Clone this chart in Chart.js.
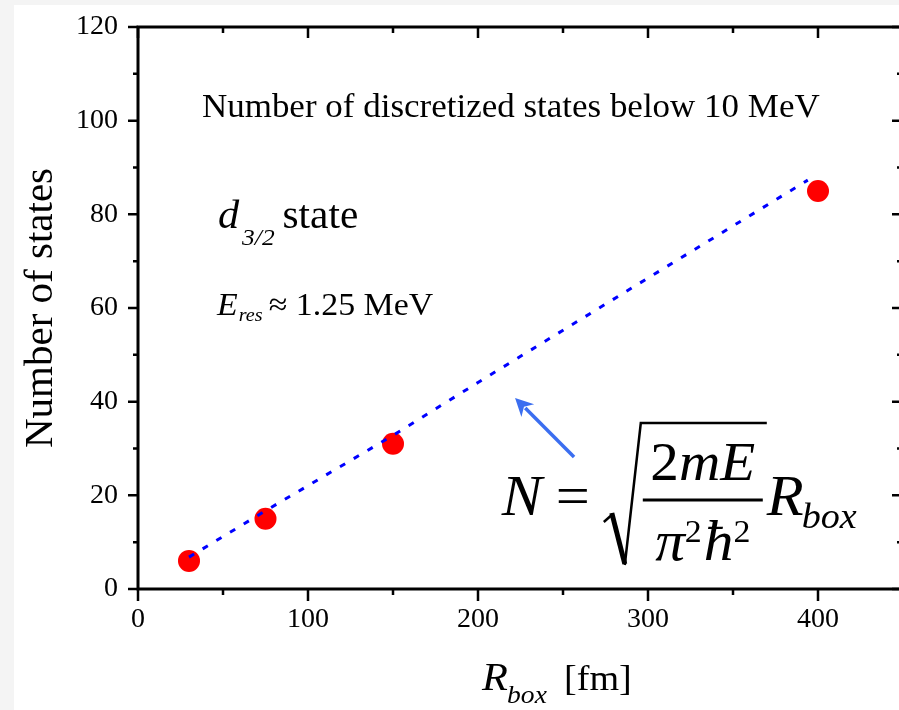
<!DOCTYPE html>
<html><head><meta charset="utf-8">
<script src="https://cdn.jsdelivr.net/npm/chart.js@4"></script>
<style>
html,body{margin:0;padding:0;overflow:hidden;background:#f4f4f4;width:899px;height:710px;}
#wrap{position:absolute;left:0;top:0;width:930px;height:710px;}
canvas{display:block;}
</style></head><body>
<div id="wrap"><canvas id="c" width="930" height="710"></canvas></div>
<script>
// ---- data ----
const pointR = [30, 75, 150, 400];          // R_box [fm] of computed points
const pointN = [6, 15, 31, 85];             // number of states
const curveR = [30, 75, 150, 200, 300, 394]; // dotted estimate line
const curveN = [6.8, 16.7, 32.8, 44.1, 66.4, 87.3];
const xTicks = [0, 100, 200, 300, 400];
const yTicks = [0, 20, 40, 60, 80, 100, 120];
const xMinor = [50, 150, 250, 350];
const yMinor = [10, 30, 50, 70, 90, 110];
const xRange = [0, 450];
const yRange = [0, 120];

const FAM = '"Liberation Serif","Times New Roman",serif';
const SX = 1.06;

function run(ctx, x, y, parts) {
  let cx = x;
  for (const p of parts) {
    cx += (p.dx || 0);
    ctx.save();
    ctx.font = (p.it ? 'italic ' : '') + p.size + 'px ' + FAM;
    ctx.textBaseline = 'alphabetic';
    ctx.textAlign = 'left';
    ctx.fillStyle = p.color || '#000';
    ctx.translate(cx, y + (p.dy || 0));
    ctx.scale(SX, 1);
    ctx.fillText(p.t, 0, 0);
    const w = ctx.measureText(p.t).width * SX;
    ctx.restore();
    cx += w;
  }
  return cx;
}
function width(ctx, parts) {
  let w = 0;
  for (const p of parts) {
    ctx.save();
    ctx.font = (p.it ? 'italic ' : '') + p.size + 'px ' + FAM;
    w += ctx.measureText(p.t).width * SX + (p.dx || 0);
    ctx.restore();
  }
  return w;
}

const bgPlugin = {
  id: 'bg',
  beforeDraw(chart) {
    const c = chart.ctx;
    c.save();
    c.fillStyle = '#f4f4f4';
    c.fillRect(0, 0, chart.width, chart.height);
    c.fillStyle = '#ffffff';
    c.fillRect(14, 5, chart.width - 14, chart.height - 5);
    c.restore();
  }
};

const decoPlugin = {
  id: 'deco',
  afterDraw(chart) {
    const c = chart.ctx;
    const xs = chart.scales.x, ys = chart.scales.y;
    const a = chart.chartArea;
    const X = v => xs.getPixelForValue(v), Y = v => ys.getPixelForValue(v);
    c.save();
    c.strokeStyle = '#000';
    c.lineCap = 'butt';
    // frame
    c.lineWidth = 3;
    c.beginPath();
    c.moveTo(a.left, a.top); c.lineTo(a.right, a.top);
    c.moveTo(a.left, a.bottom); c.lineTo(a.right, a.bottom);
    c.moveTo(a.left, a.top - 1.5); c.lineTo(a.left, a.bottom + 1.5);
    c.moveTo(a.right, a.top - 1.5); c.lineTo(a.right, a.bottom + 1.5);
    c.stroke();
    // ticks
    c.lineWidth = 2.5;
    c.beginPath();
    const tx = (v, len, top) => {
      const p = X(v);
      c.moveTo(p, a.bottom); c.lineTo(p, a.bottom + len);
      c.moveTo(p, a.top); c.lineTo(p, a.top + top);
    };
    const ty = (v, len, inn) => {
      const p = Y(v);
      c.moveTo(a.left, p); c.lineTo(a.left - len, p);
      c.moveTo(a.right, p); c.lineTo(a.right - inn, p);
    };
    xTicks.forEach(v => tx(v, 12, 11));
    xMinor.forEach(v => tx(v, 6, 6));
    yTicks.forEach(v => ty(v, 10, 11));
    yMinor.forEach(v => ty(v, 5, 6));
    c.stroke();
    c.restore();

    // y-axis title
    c.save();
    c.translate(41, (a.top + a.bottom) / 2);
    c.rotate(-Math.PI / 2);
    c.font = '41px ' + FAM;
    c.textAlign = 'center';
    c.textBaseline = 'middle';
    c.fillStyle = '#000';
    c.fillText('Number of states', 0, 0);
    c.restore();

    // x-axis title
    const xt = X(202.4), yb = a.bottom + 101;
    run(c, xt, yb, [{t: 'R', size: 40, it: true}]);
    run(c, xt + 25, yb + 13, [{t: 'box', size: 26, it: true}]);
    run(c, X(250.6), yb, [{t: '[fm]', size: 36}]);

    // inner title
    run(c, X(37.6), Y(100.8), [{t: 'Number of discretized states below 10 MeV', size: 33}]);

    // d3/2 state
    const dx0 = X(47), db = Y(77.1);
    const dEnd = run(c, dx0, db, [{t: 'd', size: 40, it: true}]);
    run(c, dEnd + 3, db + 17, [{t: '3/2', size: 24, it: true}]);
    run(c, X(85), db, [{t: 'state', size: 39}]);

    // E_res
    const ex0 = X(46.5), eb = Y(58.5);
    const eEnd = run(c, ex0, eb, [{t: 'E', size: 32, it: true}]);
    const rEnd = run(c, eEnd + 1, eb + 6, [{t: 'res', size: 19, it: true}]);
    run(c, rEnd + 6, eb, [{t: '\u2248 1.25 MeV', size: 32}]);

    // arrow
    const t0x = X(256.5), t0y = Y(28.2), t1x = X(221.8), t1y = Y(40.8);
    const ang = Math.atan2(t1y - t0y, t1x - t0x);
    const hl = 18, hw = 9;
    c.save();
    c.strokeStyle = '#3b6ef0';
    c.fillStyle = '#3b6ef0';
    c.lineWidth = 3.5;
    c.beginPath();
    c.moveTo(t0x, t0y);
    c.lineTo(t1x - Math.cos(ang) * hl * 0.8, t1y - Math.sin(ang) * hl * 0.8);
    c.stroke();
    c.beginPath();
    c.moveTo(t1x, t1y);
    c.lineTo(t1x - Math.cos(ang) * hl - Math.sin(ang) * hw, t1y - Math.sin(ang) * hl + Math.cos(ang) * hw);
    c.lineTo(t1x - Math.cos(ang) * hl * 0.7, t1y - Math.sin(ang) * hl * 0.7);
    c.lineTo(t1x - Math.cos(ang) * hl + Math.sin(ang) * hw, t1y - Math.sin(ang) * hl - Math.cos(ang) * hw);
    c.closePath();
    c.fill();
    c.restore();

    // formula
    const fx = X(214), fb = Y(15.8);
    run(c, fx, fb, [{t: 'N', size: 57, it: true}]);
    run(c, fx + 54, fb, [{t: '=', size: 57}]);
    c.save();
    c.strokeStyle = '#000';
    c.lineJoin = 'miter';
    c.lineWidth = 2.5;
    c.beginPath();
    c.moveTo(fx + 102, fb + 7);
    c.lineTo(fx + 111, fb - 1);
    c.stroke();
    c.lineWidth = 5;
    c.beginPath();
    c.moveTo(fx + 110, fb - 2);
    c.lineTo(fx + 123, fb + 49);
    c.stroke();
    c.lineWidth = 2.5;
    c.beginPath();
    c.moveTo(fx + 123, fb + 50);
    c.lineTo(fx + 139, fb - 92);
    c.lineTo(fx + 265, fb - 92);
    c.stroke();
    c.lineWidth = 3;
    c.beginPath();
    c.moveTo(fx + 141, fb - 15);
    c.lineTo(fx + 261, fb - 15);
    c.stroke();
    c.restore();
    const mid = fx + 201;
    const num = [{t: '2', size: 54}, {t: 'mE', size: 54, it: true}];
    run(c, mid - width(c, num) / 2, fb - 35, num);
    const den = [{t: '\u03c0', size: 56, it: true}, {t: '2', size: 32}, {t: '\u0127', size: 56, it: true, dx: 2}, {t: '2', size: 32}];
    let dxs = mid - width(c, den) / 2;
    dxs = run(c, dxs, fb + 45, [den[0]]);
    dxs = run(c, dxs, fb + 27, [den[1]]);
    dxs = run(c, dxs + 2, fb + 45, [{t: '\u0127', size: 56, it: true}]);
    run(c, dxs, fb + 27, [den[3]]);
    const rEnd2 = run(c, fx + 265, fb, [{t: 'R', size: 57, it: true}]);
    run(c, rEnd2 - 2, fb + 13, [{t: 'box', size: 36, it: true}]);
  }
};

const curveData = curveR.map((r, i) => ({x: r, y: curveN[i]}));
const pointData = pointR.map((r, i) => ({x: r, y: pointN[i]}));

new Chart(document.getElementById('c').getContext('2d'), {
  type: 'scatter',
  data: {
    datasets: [
      {data: curveData, showLine: true, borderColor: '#0000ff', borderWidth: 3, borderDash: [6, 10],
       pointRadius: 0, fill: false, tension: 0},
      {data: pointData, showLine: false, backgroundColor: '#ff0000', borderColor: '#ff0000',
       borderWidth: 0, pointRadius: 11}
    ]
  },
  options: {
    responsive: false, animation: false, devicePixelRatio: 1, events: [],
    layout: {padding: {left: 0, top: 27, right: 27, bottom: 0}},
    plugins: {legend: {display: false}, tooltip: {enabled: false}, title: {display: false}},
    scales: {
      x: {
        type: 'linear', position: 'bottom', min: xRange[0], max: xRange[1],
        afterBuildTicks: s => { s.ticks = xTicks.map(v => ({value: v})); },
        afterFit: s => { s.height = 121; s.paddingLeft = 0; s.paddingRight = 0; },
        grid: {display: false, drawTicks: false}, border: {display: false},
        ticks: {padding: 14, color: '#000', font: {family: FAM, size: 28}, maxRotation: 0, autoSkip: false}
      },
      y: {
        type: 'linear', position: 'left', min: yRange[0], max: yRange[1],
        afterBuildTicks: s => { s.ticks = yTicks.map(v => ({value: v})); },
        afterFit: s => { s.width = 138; s.paddingTop = 0; s.paddingBottom = 0; },
        grid: {display: false, drawTicks: false}, border: {display: false},
        ticks: {padding: 20, color: '#000', font: {family: FAM, size: 28}, autoSkip: false}
      }
    }
  },
  plugins: [bgPlugin, decoPlugin]
});
</script>
</body></html>
